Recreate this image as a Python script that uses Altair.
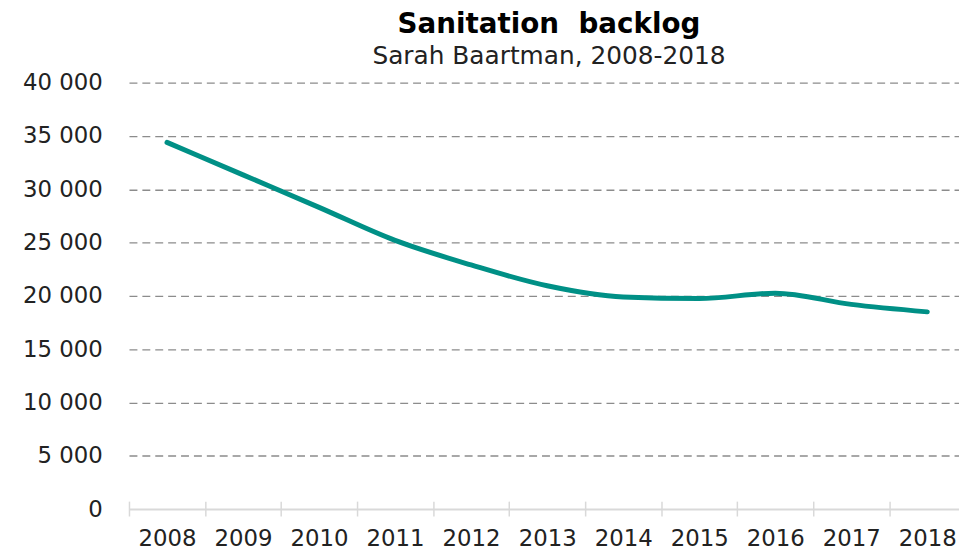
import altair as alt
import pandas as pd

years = [2008, 2009, 2010, 2011, 2012, 2013, 2014, 2015, 2016, 2017, 2018]
backlog = [34400, 31350, 28300, 25200, 22900, 20950, 19900, 19750, 20250, 19200, 18500]
y_ticks = [0, 5000, 10000, 15000, 20000, 25000, 30000, 35000, 40000]
x_ticks = [y - 0.5 for y in years]  # category boundaries

df = pd.DataFrame({"year": years, "backlog": backlog})

FONT = "DejaVu Sans"
WIDTH = 837
STEP = 76.67

chart = (
    alt.Chart(df)
    .mark_line(color="#009086", strokeWidth=5, strokeCap="round", interpolate="monotone")
    .encode(
        x=alt.X(
            "year:Q",
            scale=alt.Scale(domain=[2007.5, 2007.5 + WIDTH / STEP], nice=False, zero=False),
            axis=alt.Axis(
                title=None,
                values=x_ticks,
                labelExpr="format(datum.value + 0.5, 'd')",
                labelOffset=STEP / 2,
                labelOverlap=False,
                labelFlush=False,
                labelBound=False,
                labelAngle=0,
                domain=False,
                tickColor="#d9d9d9",
                tickWidth=1.5,
                tickSize=15,
                offset=-8,
                labelPadding=12,
                labelFont=FONT,
                labelFontSize=23,
                labelColor="#222222",
                grid=False,
            ),
        ),
        y=alt.Y(
            "backlog:Q",
            scale=alt.Scale(domain=[0, 40000], nice=False, zero=True),
            axis=alt.Axis(
                title=None,
                values=y_ticks,
                labelExpr="replace(format(datum.value, ','), ',', ' ')",
                domain=False,
                ticks=False,
                labelPadding=27,
                labelFont=FONT,
                labelFontSize=23,
                labelColor="#222222",
                grid=True,
                gridColor=alt.condition("datum.value === 0", alt.value("#d9d9d9"), alt.value("#8c8c8c")),
                gridDash=alt.condition("datum.value === 0", alt.value([]), alt.value([8, 5])),
                gridWidth=alt.condition("datum.value === 0", alt.value(2), alt.value(1.3)),
            ),
        ),
    )
    .properties(
        width=WIDTH,
        height=430,
        autosize=alt.AutoSizeParams(type="none"),
        padding={"left": 122, "top": 73, "right": 0, "bottom": 41},
        title=alt.TitleParams(
            text="Sanitation\u00a0 backlog",
            subtitle="Sarah Baartman, 2008-2018",
            anchor="middle",
            font=FONT,
            fontSize=28,
            fontWeight="bold",
            color="#000000",
            subtitleFont=FONT,
            subtitleFontSize=25,
            subtitleColor="#222222",
            subtitlePadding=5,
            offset=3,
            dx=5,
        ),
    )
    .configure_view(stroke=None)
)

chart.save("out.html", embed_options={"renderer": "svg", "actions": False})
